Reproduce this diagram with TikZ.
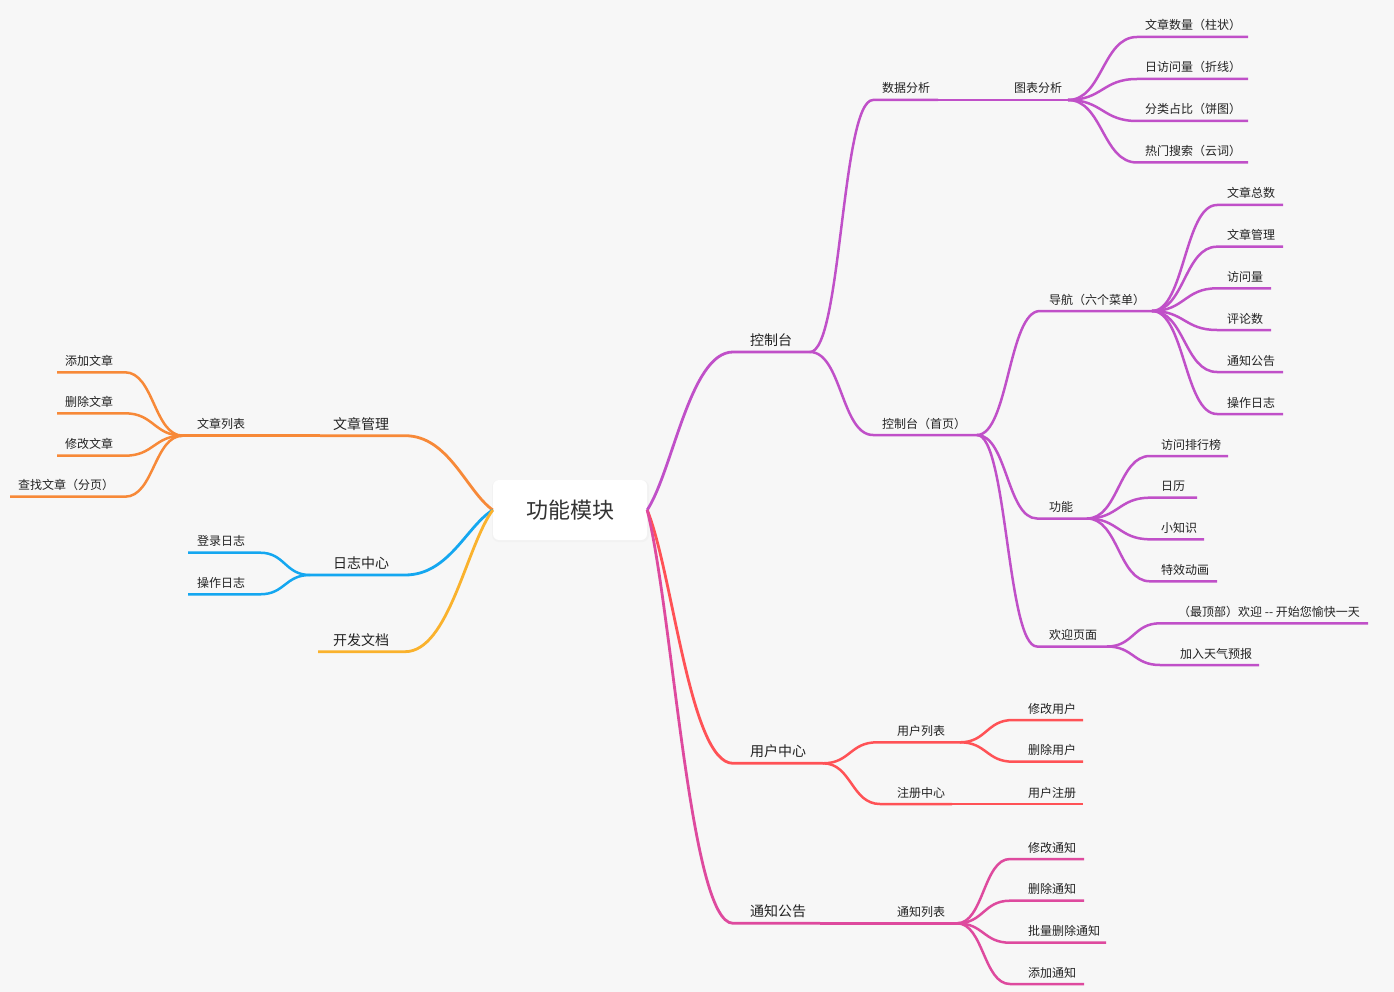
\documentclass[tikz,border=0pt]{standalone}
\usepackage{fontspec}
\newfontfamily\cjk{Noto Sans CJK SC}
\usetikzlibrary{calc}
\definecolor{bg}{RGB}{247,247,247}
\definecolor{cpur}{RGB}{192,80,200}
\definecolor{cred}{RGB}{255,82,86}
\definecolor{cpink}{RGB}{222,74,158}
\definecolor{corg}{RGB}{247,137,56}
\definecolor{cblue}{RGB}{20,167,240}
\definecolor{cyel}{RGB}{250,178,45}
\definecolor{txt}{RGB}{34,34,34}
\definecolor{roottxt}{RGB}{51,51,51}
\newcommand\conn[4]{\draw[br,#1] let \p1=(#2),\p2=(#3) in (\p1) .. controls ({(\x1+\x2)/2},\y1) and ({(\x1+\x2)/2},\y2) .. (\p2) -- (#4);}
\newcommand\rconn[4]{\draw[br,line width=2.8pt,#1] let \p1=(#2),\p2=(#3) in (\p1) .. controls ({\x1+0.3*(\x2-\x1)},{\y1+0.25*(\y2-\y1)}) and ({(\x1+\x2)/2},\y2) .. (\p2) -- (#4);}
\begin{document}
\begin{tikzpicture}[x=1pt,y=-1pt,
  br/.style={line width=2.5pt},
  lab/.style={anchor=base west,inner sep=0pt,text=txt,font=\cjk\fontsize{12}{14}\selectfont},
  labb/.style={lab,font=\cjk\fontsize{14}{16}\selectfont},
  rootbox/.style={fill=white,rounded corners=6pt,minimum width=154pt,minimum height=60pt,inner sep=0pt,text=roottxt,font=\cjk\fontsize{22}{24}\selectfont}]
\fill[bg] (0,0) rectangle (1394,992);
\useasboundingbox (0,0) rectangle (1394,992);
% root
\fill[black!5,rounded corners=7pt] (492,480) rectangle (649,542);
\node[rootbox] (root) at (570,510) {功能模块};
% ---------- coordinates: right side
\coordinate (kz-l) at (733,352); \coordinate (kz-r) at (810,352);
\coordinate (sj-l) at (873,100); \coordinate (sj-r) at (938,100); \coordinate (tb-r) at (1068,100);
\coordinate (tb1-l) at (1137,37);  \coordinate (tb1-r) at (1248,37);
\coordinate (tb2-l) at (1137,79);  \coordinate (tb2-r) at (1248,79);
\coordinate (tb3-l) at (1137,121); \coordinate (tb3-r) at (1248,121);
\coordinate (tb4-l) at (1137,162.5); \coordinate (tb4-r) at (1248,162.5);
\coordinate (sy-l) at (873,435); \coordinate (sy-r) at (977,435);
\coordinate (dh-l) at (1040,311); \coordinate (dh-r) at (1152,311);
\coordinate (dh1-l) at (1217,205);   \coordinate (dh1-r) at (1283,205);
\coordinate (dh2-l) at (1217,246.7); \coordinate (dh2-r) at (1283,246.7);
\coordinate (dh3-l) at (1217,288.3); \coordinate (dh3-r) at (1271,288.3);
\coordinate (dh4-l) at (1217,330);   \coordinate (dh4-r) at (1271,330);
\coordinate (dh5-l) at (1217,372);   \coordinate (dh5-r) at (1283,372);
\coordinate (dh6-l) at (1217,414);   \coordinate (dh6-r) at (1283,414);
\coordinate (gn-l) at (1037,518.5); \coordinate (gn-r) at (1087,518.5);
\coordinate (gn1-l) at (1150,456);   \coordinate (gn1-r) at (1228,456);
\coordinate (gn2-l) at (1150,497.7); \coordinate (gn2-r) at (1197,497.7);
\coordinate (gn3-l) at (1150,539.3); \coordinate (gn3-r) at (1204,539.3);
\coordinate (gn4-l) at (1150,581.3); \coordinate (gn4-r) at (1217,581.3);
\coordinate (hy-l) at (1037,646.5); \coordinate (hy-r) at (1107,646.5);
\coordinate (hy1-l) at (1160,623.3); \coordinate (hy1-r) at (1368,623.3);
\coordinate (hy2-l) at (1160,665);   \coordinate (hy2-r) at (1259,665);
\coordinate (yh-l) at (733,763.3); \coordinate (yh-r) at (823,763.3);
\coordinate (yl-l) at (877,742.3); \coordinate (yl-r) at (960,742.3);
\coordinate (yl1-l) at (1013,720);   \coordinate (yl1-r) at (1083,720);
\coordinate (yl2-l) at (1013,761.7); \coordinate (yl2-r) at (1083,761.7);
\coordinate (zc-l) at (880,804); \coordinate (zc-r) at (952,804); \coordinate (zz-r) at (1083,804);
\coordinate (tz-l) at (733,923.3); \coordinate (tz-r) at (820,923.3); \coordinate (tl-r) at (957,923.3);
\coordinate (tl1-l) at (1010,859);   \coordinate (tl1-r) at (1084,859);
\coordinate (tl2-l) at (1010,900.7); \coordinate (tl2-r) at (1084,900.7);
\coordinate (tl3-l) at (1010,942.7); \coordinate (tl3-r) at (1106,942.7);
\coordinate (tl4-l) at (1010,984);   \coordinate (tl4-r) at (1084,984);
% ---------- coordinates: left side
\coordinate (wg-r) at (405,435.7); \coordinate (wg-l) at (320,435.7); \coordinate (wl-l) at (183,435.7);
\coordinate (wl1-r) at (125,372.3); \coordinate (wl1-l) at (57,372.3);
\coordinate (wl2-r) at (125,413.3); \coordinate (wl2-l) at (57,413.3);
\coordinate (wl3-r) at (125,455.7); \coordinate (wl3-l) at (57,455.7);
\coordinate (wl4-r) at (125,496.7); \coordinate (wl4-l) at (10,496.7);
\coordinate (rz-r) at (405,575); \coordinate (rz-l) at (310,575);
\coordinate (rz1-r) at (260,552.7); \coordinate (rz1-l) at (188,552.7);
\coordinate (rz2-r) at (260,594.3); \coordinate (rz2-l) at (188,594.3);
\coordinate (kf-r) at (405,651.7); \coordinate (kf-l) at (318,651.7);
% ---------- connectors
\rconn{cpur}{root.east}{kz-l}{kz-r}
\conn{cpur}{kz-r}{sj-l}{sj-r}
\draw[br,cpur] (sj-r) -- (tb-r);
\conn{cpur}{tb-r}{tb1-l}{tb1-r}
\conn{cpur}{tb-r}{tb2-l}{tb2-r}
\conn{cpur}{tb-r}{tb3-l}{tb3-r}
\conn{cpur}{tb-r}{tb4-l}{tb4-r}
\conn{cpur}{kz-r}{sy-l}{sy-r}
\conn{cpur}{sy-r}{dh-l}{dh-r}
\conn{cpur}{dh-r}{dh1-l}{dh1-r}
\conn{cpur}{dh-r}{dh2-l}{dh2-r}
\conn{cpur}{dh-r}{dh3-l}{dh3-r}
\conn{cpur}{dh-r}{dh4-l}{dh4-r}
\conn{cpur}{dh-r}{dh5-l}{dh5-r}
\conn{cpur}{dh-r}{dh6-l}{dh6-r}
\conn{cpur}{sy-r}{gn-l}{gn-r}
\conn{cpur}{gn-r}{gn1-l}{gn1-r}
\conn{cpur}{gn-r}{gn2-l}{gn2-r}
\conn{cpur}{gn-r}{gn3-l}{gn3-r}
\conn{cpur}{gn-r}{gn4-l}{gn4-r}
\conn{cpur}{sy-r}{hy-l}{hy-r}
\conn{cpur}{hy-r}{hy1-l}{hy1-r}
\conn{cpur}{hy-r}{hy2-l}{hy2-r}
\rconn{cred}{root.east}{yh-l}{yh-r}
\conn{cred}{yh-r}{yl-l}{yl-r}
\conn{cred}{yl-r}{yl1-l}{yl1-r}
\conn{cred}{yl-r}{yl2-l}{yl2-r}
\conn{cred}{yh-r}{zc-l}{zc-r}
\draw[br,cred] (zc-r) -- (zz-r);
\rconn{cpink}{root.east}{tz-l}{tz-r}
\draw[br,cpink] (tz-r) -- (tl-r);
\conn{cpink}{tl-r}{tl1-l}{tl1-r}
\conn{cpink}{tl-r}{tl2-l}{tl2-r}
\conn{cpink}{tl-r}{tl3-l}{tl3-r}
\conn{cpink}{tl-r}{tl4-l}{tl4-r}
\rconn{corg}{root.west}{wg-r}{wg-l}
\draw[br,corg] (wg-l) -- (wl-l);
\conn{corg}{wl-l}{wl1-r}{wl1-l}
\conn{corg}{wl-l}{wl2-r}{wl2-l}
\conn{corg}{wl-l}{wl3-r}{wl3-l}
\conn{corg}{wl-l}{wl4-r}{wl4-l}
\rconn{cblue}{root.west}{rz-r}{rz-l}
\conn{cblue}{rz-l}{rz1-r}{rz1-l}
\conn{cblue}{rz-l}{rz2-r}{rz2-l}
\rconn{cyel}{root.west}{kf-r}{kf-l}
% ---------- labels
\node[labb] (t-kz) at (750,345.3) {控制台};
\node[lab] (t-sj) at (882,93) {数据分析};
\node[lab] (t-tb) at (1014,93) {图表分析};
\node[lab] (t-tb1) at (1145,30) {文章数量（柱状）};
\node[lab] (t-tb2) at (1145,72) {日访问量（折线）};
\node[lab] (t-tb3) at (1145,114) {分类占比（饼图）};
\node[lab] (t-tb4) at (1145,155.5) {热门搜索（云词）};
\node[lab] (t-sy) at (882,428) {控制台（首页）};
\node[lab] (t-dh) at (1049,304) {导航（六个菜单）};
\node[lab] (t-dh1) at (1227,198) {文章总数};
\node[lab] (t-dh2) at (1227,239.7) {文章管理};
\node[lab] (t-dh3) at (1227,281.3) {访问量};
\node[lab] (t-dh4) at (1227,323) {评论数};
\node[lab] (t-dh5) at (1227,365) {通知公告};
\node[lab] (t-dh6) at (1227,407) {操作日志};
\node[lab] (t-gn) at (1049,511.5) {功能};
\node[lab] (t-gn1) at (1161,449) {访问排行榜};
\node[lab] (t-gn2) at (1161,490.7) {日历};
\node[lab] (t-gn3) at (1161,532.3) {小知识};
\node[lab] (t-gn4) at (1161,574.3) {特效动画};
\node[lab] (t-hy) at (1049,639.5) {欢迎页面};
\node[lab] (t-hy1) at (1178,616.3) {（最顶部）欢迎 -- 开始您愉快一天};
\node[lab] (t-hy2) at (1180,658) {加入天气预报};
\node[labb] (t-yh) at (750,756.6) {用户中心};
\node[lab] (t-yl) at (897,735.3) {用户列表};
\node[lab] (t-yl1) at (1028,713) {修改用户};
\node[lab] (t-yl2) at (1028,754.7) {删除用户};
\node[lab] (t-zc) at (897,797) {注册中心};
\node[lab] (t-zz) at (1028,797) {用户注册};
\node[labb] (t-tz) at (750,916.6) {通知公告};
\node[lab] (t-tl) at (897,916.3) {通知列表};
\node[lab] (t-tl1) at (1028,852) {修改通知};
\node[lab] (t-tl2) at (1028,893.7) {删除通知};
\node[lab] (t-tl3) at (1028,935.7) {批量删除通知};
\node[lab] (t-tl4) at (1028,977) {添加通知};
\node[labb] (t-wg) at (333,429) {文章管理};
\node[lab] (t-wl) at (197,428.7) {文章列表};
\node[lab] (t-wl1) at (65,365.3) {添加文章};
\node[lab] (t-wl2) at (65,406.3) {删除文章};
\node[lab] (t-wl3) at (65,448.7) {修改文章};
\node[lab] (t-wl4) at (18,489.7) {查找文章（分页）};
\node[labb] (t-rz) at (333,568.3) {日志中心};
\node[lab] (t-rz1) at (197,545.7) {登录日志};
\node[lab] (t-rz2) at (197,587.3) {操作日志};
\node[labb] (t-kf) at (333,645) {开发文档};
\end{tikzpicture}
\end{document}
